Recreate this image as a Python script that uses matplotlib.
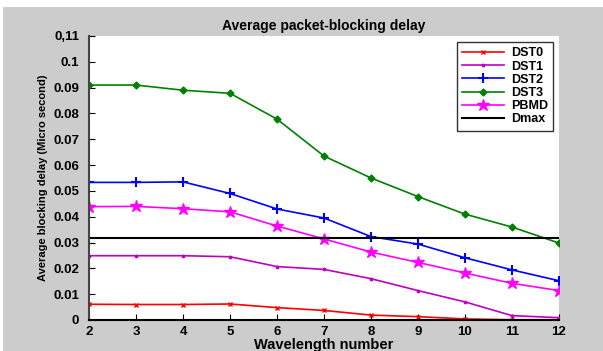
import matplotlib
matplotlib.use("Agg")
import matplotlib.pyplot as plt
from matplotlib.patches import Rectangle

plt.rcParams['font.family'] = ['Liberation Sans', 'DejaVu Sans']
plt.rcParams['font.weight'] = 'bold'

wavelengths = [2, 3, 4, 5, 6, 7, 8, 9, 10, 11, 12]
dst0 = [0.0061, 0.0060, 0.0060, 0.0062, 0.0048, 0.0037, 0.0019, 0.0013, 0.0004, 0.0001, 0.0001]
dst1 = [0.0249, 0.0249, 0.0249, 0.0245, 0.0207, 0.0196, 0.0160, 0.0114, 0.0070, 0.0017, 0.0009]
dst2 = [0.0533, 0.0533, 0.0535, 0.0490, 0.0430, 0.0395, 0.0323, 0.0294, 0.0241, 0.0194, 0.0152]
dst3 = [0.0910, 0.0910, 0.0890, 0.0878, 0.0778, 0.0635, 0.0550, 0.0478, 0.0410, 0.0360, 0.0298]
pbmd = [0.0439, 0.0440, 0.0431, 0.0419, 0.0364, 0.0314, 0.0263, 0.0223, 0.0182, 0.0142, 0.0114]
dmax = 0.0317

y_ticks = [0, 0.01, 0.02, 0.03, 0.04, 0.05, 0.06, 0.07, 0.08, 0.09, 0.1, 0.11]
y_ticklabels = ['0', '0.01', '0.02', '0.03', '0.04', '0.05', '0.06', '0.07', '0.08', '0.09', '0.1', '0,11']

fig = plt.figure(figsize=(6.03, 3.51), dpi=100, facecolor='#cccccc')
# thin white margin at top and left, like the screenshot
fig.patches.append(Rectangle((0, 1 - 7 / 351), 1, 7 / 351, transform=fig.transFigure,
                             facecolor='white', edgecolor='none', zorder=-1))
fig.patches.append(Rectangle((0, 0), 3 / 603, 1, transform=fig.transFigure,
                             facecolor='white', edgecolor='none', zorder=-1))

ax = fig.add_axes([89 / 603, 31 / 351, 470 / 603, 284 / 351])
ax.set_facecolor('white')

ax.plot(wavelengths, dst0, color='#ff0000', marker='x', markersize=3.5, linewidth=1.2, label='DST0')
ax.plot(wavelengths, dst1, color='#bf00bf', marker='.', markersize=3.5, linewidth=1.2, label='DST1')
ax.plot(wavelengths, dst2, color='#0000ff', marker='+', markersize=7, markeredgewidth=1.5,
        linewidth=1.2, label='DST2')
ax.plot(wavelengths, dst3, color='#008000', marker='D', markersize=3.5, linewidth=1.2, label='DST3')
ax.plot(wavelengths, pbmd, color='#ff00ff', marker='*', markersize=9, linewidth=1.2, label='PBMD')
ax.axhline(dmax, color='black', linewidth=1.5, label='Dmax')

ax.set_xlim(2, 12)
ax.set_ylim(0, 0.11)
ax.set_xticks(wavelengths)
ax.set_yticks(y_ticks)
ax.set_yticklabels(y_ticklabels)
ax.tick_params(direction='in', length=4, labelsize=9.5, colors='black')
ax.tick_params(axis='y', pad=7)
ax.tick_params(axis='x', pad=4)

for side in ['top', 'right']:
    ax.spines[side].set_visible(False)
ax.spines['left'].set_color('#444444')
ax.spines['left'].set_linewidth(1.5)
ax.spines['bottom'].set_linewidth(1.5)

ax.set_title('Average packet-blocking delay', fontsize=10, fontweight='bold', pad=4)
ax.set_xlabel('Wavelength number', fontsize=10.5, fontweight='bold', labelpad=0)
ax.set_ylabel('Average blocking delay (Micro second)', fontsize=8, fontweight='bold', labelpad=4)

leg = ax.legend(loc='upper right', fontsize=9, frameon=True, fancybox=False,
                borderaxespad=0.5, handlelength=3.4, labelspacing=0.1, borderpad=0.4,
                handletextpad=0.5)
leg.get_frame().set_edgecolor('black')
leg.get_frame().set_linewidth(1.0)

fig.savefig('out.png', dpi=100, facecolor=fig.get_facecolor())
